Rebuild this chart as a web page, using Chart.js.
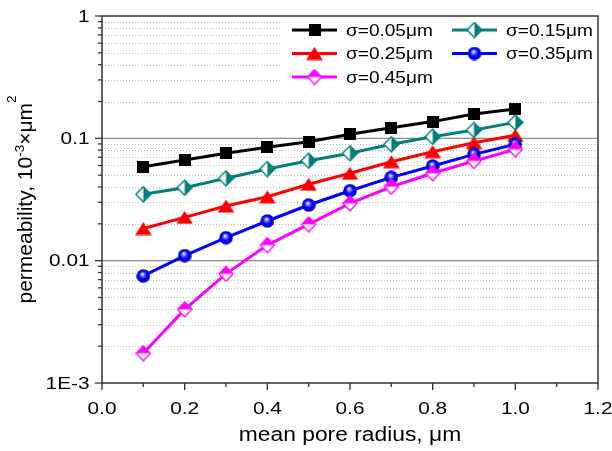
<!DOCTYPE html>
<html>
<head>
<meta charset="utf-8">
<script src="https://cdn.jsdelivr.net/npm/chart.js"></script>
<style>
  body { margin: 0; background: #fff; }
</style>
</head>
<body>
<canvas id="myChart" width="612" height="451"></canvas>
<script>
// data
var poreRadius = [0.1, 0.2, 0.3, 0.4, 0.5, 0.6, 0.7, 0.8, 0.9, 1.0];
var sigma005 = [0.0586, 0.0665, 0.0755, 0.0845, 0.0938, 0.108, 0.122, 0.137, 0.158, 0.174];
var sigma015 = [0.0349, 0.0395, 0.0471, 0.0561, 0.0656, 0.0755, 0.0894, 0.103, 0.117, 0.135];
var sigma025 = [0.0183, 0.0226, 0.0280, 0.0333, 0.0421, 0.0518, 0.0644, 0.0778, 0.0921, 0.106];
var sigma035 = [0.0075, 0.0110, 0.0154, 0.0211, 0.0285, 0.0373, 0.0480, 0.0594, 0.0740, 0.0894];
var sigma045 = [0.00175, 0.0040, 0.0078, 0.0134, 0.0198, 0.0294, 0.0402, 0.0518, 0.0653, 0.0813];

var legendLabels = ["σ=0.05μm", "σ=0.15μm", "σ=0.25μm", "σ=0.35μm", "σ=0.45μm"];

var xTicks = [0, 0.2, 0.4, 0.6, 0.8, 1.0, 1.2];
var xTickLabels = ["0.0", "0.2", "0.4", "0.6", "0.8", "1.0", "1.2"];
var xMinorTicks = [0.1, 0.3, 0.5, 0.7, 0.9, 1.1];
var yTicks = [0.001, 0.01, 0.1, 1];
var yTickLabels = ["1E-3", "0.01", "0.1", "1"];

var xTitle = "mean pore radius, μm";

var FONT = '"Liberation Sans", Arial, sans-serif';

// marker symbols
function mk(w, h, fn) {
  var c = document.createElement("canvas");
  c.width = w; c.height = h;
  fn(c.getContext("2d"));
  return c;
}
var squareMk = mk(12, 12, function (g) {
  g.fillStyle = "#000";
  g.fillRect(0, 0, 12, 12);
});
var triMk = mk(17, 14, function (g) {
  g.fillStyle = "#ff0000";
  g.beginPath();
  g.moveTo(8.5, 0.5); g.lineTo(16.8, 13.5); g.lineTo(0.2, 13.5);
  g.closePath(); g.fill();
});
var tealMk = mk(17, 17, function (g) {
  g.fillStyle = "#fff";
  g.beginPath();
  g.moveTo(8.5, 1); g.lineTo(16, 8.5); g.lineTo(8.5, 16); g.lineTo(1, 8.5);
  g.closePath(); g.fill();
  g.fillStyle = "#007f7f";
  g.beginPath();
  g.moveTo(8.5, 1); g.lineTo(16, 8.5); g.lineTo(8.5, 16);
  g.closePath(); g.fill();
  g.strokeStyle = "#007f7f"; g.lineWidth = 1.4;
  g.beginPath();
  g.moveTo(8.5, 1); g.lineTo(16, 8.5); g.lineTo(8.5, 16); g.lineTo(1, 8.5);
  g.closePath(); g.stroke();
});
var magMk = mk(16, 17, function (g) {
  g.fillStyle = "#fff";
  g.beginPath();
  g.moveTo(8, 1); g.lineTo(15, 8.5); g.lineTo(8, 16); g.lineTo(1, 8.5);
  g.closePath(); g.fill();
  g.fillStyle = "#ff00ff";
  g.beginPath();
  g.moveTo(8, 1); g.lineTo(15, 8.5); g.lineTo(1, 8.5);
  g.closePath(); g.fill();
  g.strokeStyle = "#ff00ff"; g.lineWidth = 1.3;
  g.beginPath();
  g.moveTo(8, 1); g.lineTo(15, 8.5); g.lineTo(8, 16); g.lineTo(1, 8.5);
  g.closePath(); g.stroke();
});
var ballMk = mk(14, 14, function (g) {
  var gr = g.createRadialGradient(6, 5, 0.3, 7, 7, 7);
  gr.addColorStop(0, "#ffffff");
  gr.addColorStop(0.25, "#7070ff");
  gr.addColorStop(0.55, "#0000ff");
  gr.addColorStop(1, "#0000b0");
  g.fillStyle = gr;
  g.beginPath(); g.arc(7, 7, 6.8, 0, Math.PI * 2); g.fill();
});

function pts(arr) {
  return poreRadius.map(function (x, i) { return { x: x, y: arr[i] }; });
}

var seriesList = [
  { data: sigma005, color: "#000000", marker: squareMk },
  { data: sigma015, color: "#007f7f", marker: tealMk },
  { data: sigma025, color: "#ff0000", marker: triMk },
  { data: sigma035, color: "#0000ff", marker: ballMk },
  { data: sigma045, color: "#ff00ff", marker: magMk }
];

function stretchText(ctx, text, x, y, align, sx) {
  ctx.save();
  ctx.translate(x, y);
  ctx.scale(sx, 1);
  ctx.textAlign = align;
  ctx.textBaseline = "alphabetic";
  ctx.fillText(text, 0, 0);
  ctx.restore();
}

var framePlugin = {
  id: "frame",
  beforeDatasetsDraw: function (chart) {
    var ctx = chart.ctx, a = chart.chartArea, ys = chart.scales.y;
    ctx.save();
    // minor grid, dotted
    ctx.strokeStyle = "#b8b8b8";
    ctx.lineWidth = 1;
    ctx.setLineDash([1, 2]);
    for (var d = 0; d < yTicks.length - 1; d++) {
      for (var m = 2; m <= 9; m++) {
        var py = Math.round(ys.getPixelForValue(yTicks[d] * m)) + 0.5;
        ctx.beginPath(); ctx.moveTo(a.left, py); ctx.lineTo(a.right, py); ctx.stroke();
      }
    }
    ctx.setLineDash([]);
    ctx.strokeStyle = "#8c8c8c";
    ctx.lineWidth = 1.3;
    [0.01, 0.1].forEach(function (v) {
      var py = ys.getPixelForValue(v);
      ctx.beginPath(); ctx.moveTo(a.left, py); ctx.lineTo(a.right, py); ctx.stroke();
    });
    ctx.restore();
  },
  afterDraw: function (chart) {
    var ctx = chart.ctx, a = chart.chartArea, xs = chart.scales.x, ys = chart.scales.y;
    ctx.save();

    // legend box
    ctx.fillStyle = "#fff";
    ctx.fillRect(280, a.top, a.right - 280, 74);
    var cols = [292, 452], rows = [30, 53.5, 77];
    ctx.font = "16.3px " + FONT;
    for (var i = 0; i < seriesList.length; i++) {
      var s = seriesList[i];
      var lx = cols[i % 2], ly = rows[Math.floor(i / 2)];
      ctx.strokeStyle = s.color;
      ctx.lineWidth = 3;
      ctx.beginPath(); ctx.moveTo(lx, ly); ctx.lineTo(lx + 45, ly); ctx.stroke();
      var mkc = s.marker;
      ctx.drawImage(mkc, lx + 22.5 - mkc.width / 2, ly - mkc.height / 2);
      ctx.fillStyle = "#000";
      stretchText(ctx, legendLabels[i], lx + 54, ly + 5.8, "left", 1.17);
    }

    // frame
    ctx.strokeStyle = "#333";
    ctx.lineWidth = 1.5;
    ctx.strokeRect(a.left, a.top, a.right - a.left, a.bottom - a.top);

    // tick marks
    ctx.lineWidth = 1.3;
    yTicks.forEach(function (v) {
      var py = ys.getPixelForValue(v);
      ctx.beginPath(); ctx.moveTo(a.left - 7, py); ctx.lineTo(a.left, py); ctx.stroke();
    });
    for (var d = 0; d < yTicks.length - 1; d++) {
      for (var m = 2; m <= 9; m++) {
        var py = ys.getPixelForValue(yTicks[d] * m);
        ctx.beginPath(); ctx.moveTo(a.left - 4, py); ctx.lineTo(a.left, py); ctx.stroke();
      }
    }
    xTicks.forEach(function (v) {
      var px = xs.getPixelForValue(v);
      ctx.beginPath(); ctx.moveTo(px, a.bottom); ctx.lineTo(px, a.bottom + 7); ctx.stroke();
    });
    xMinorTicks.forEach(function (v) {
      var px = xs.getPixelForValue(v);
      ctx.beginPath(); ctx.moveTo(px, a.bottom); ctx.lineTo(px, a.bottom + 4); ctx.stroke();
    });

    // tick labels
    ctx.fillStyle = "#000";
    ctx.font = "16.5px " + FONT;
    yTicks.forEach(function (v, i) {
      stretchText(ctx, yTickLabels[i], 89.5, ys.getPixelForValue(v) + 5.8, "right", 1.26);
    });
    xTicks.forEach(function (v, i) {
      stretchText(ctx, xTickLabels[i], xs.getPixelForValue(v), 414, "center", 1.26);
    });

    // axis titles
    ctx.font = "19.5px " + FONT;
    stretchText(ctx, xTitle, (a.left + a.right) / 2, 441, "center", 1.17);

    var parts = [
      { t: "permeability, 10", size: 21, up: 0 },
      { t: "-3", size: 13.5, up: 8 },
      { t: "×μm", size: 21, up: 0 },
      { t: "2", size: 13.5, up: 16 }
    ];
    var total = 0;
    parts.forEach(function (p) {
      ctx.font = p.size + "px " + FONT;
      p.w = ctx.measureText(p.t).width;
      total += p.w;
    });
    ctx.translate(32, (a.top + a.bottom) / 2);
    ctx.rotate(-Math.PI / 2);
    ctx.textAlign = "left";
    ctx.textBaseline = "alphabetic";
    var cx = -total / 2;
    parts.forEach(function (p) {
      ctx.font = p.size + "px " + FONT;
      ctx.fillText(p.t, cx, -p.up);
      cx += p.w;
    });
    ctx.restore();
  }
};

var ctx = document.getElementById("myChart").getContext("2d");
var myChart = new Chart(ctx, {
  type: "line",
  data: {
    datasets: seriesList.map(function (s, i) {
      return {
        label: legendLabels[i],
        data: pts(s.data),
        borderColor: s.color,
        backgroundColor: s.color,
        borderWidth: 3,
        pointStyle: s.marker,
        pointRadius: 7,
        pointHoverRadius: 7,
        fill: false,
        tension: 0,
        order: 4 - i
      };
    })
  },
  options: {
    responsive: false,
    animation: false,
    devicePixelRatio: 1,
    layout: { padding: { top: 16, right: 14, left: 0, bottom: 0 } },
    plugins: { legend: { display: false }, tooltip: { enabled: false } },
    scales: {
      x: {
        type: "linear",
        min: 0,
        max: 1.2,
        ticks: { display: false },
        grid: { display: false },
        border: { display: false },
        afterFit: function (s) { s.height = 68; }
      },
      y: {
        type: "logarithmic",
        min: 0.001,
        max: 1,
        ticks: { display: false },
        grid: { display: false },
        border: { display: false },
        afterFit: function (s) { s.width = 102; }
      }
    }
  },
  plugins: [framePlugin]
});
</script>
</body>
</html>
